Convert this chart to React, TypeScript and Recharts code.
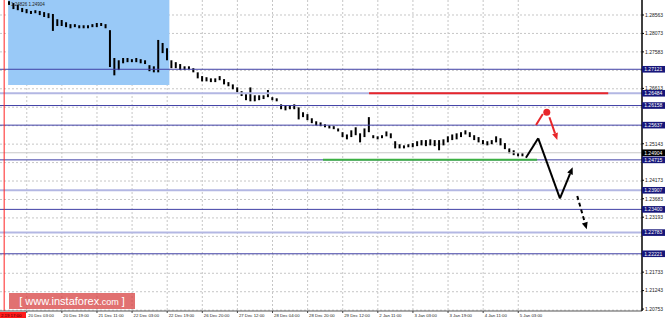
import React from 'react';
import {
  ComposedChart,
  Bar,
  XAxis,
  YAxis,
  CartesianGrid,
  ReferenceLine,
  ReferenceArea,
  ReferenceDot,
} from 'recharts';

// ---- price bars (2-hour steps, high / low) ----
const highs = [
  1.2893, 1.2888, 1.2883, 1.2875, 1.2872, 1.2867, 1.2869, 1.2867, 1.2864, 1.2861,
  1.2859, 1.2845, 1.2843, 1.2837, 1.2832, 1.2832, 1.2829, 1.2829, 1.2829, 1.2832,
  1.2835, 1.2835, 1.2832, 1.2816, 1.2742, 1.2736, 1.2742, 1.2742, 1.2739, 1.2742,
  1.2739, 1.2736, 1.2723, 1.272, 1.279, 1.2782, 1.2768, 1.2736, 1.2731, 1.2726,
  1.272, 1.272, 1.2715, 1.2704, 1.2694, 1.2691, 1.2688, 1.2688, 1.2694, 1.2686,
  1.2678, 1.2672, 1.2664, 1.2654, 1.2646, 1.2664, 1.2643, 1.2643, 1.2643, 1.2657,
  1.2638, 1.2635, 1.2619, 1.2617, 1.2617, 1.2619, 1.2611, 1.2598, 1.2593, 1.2582,
  1.2574, 1.2571, 1.2566, 1.2563, 1.2561, 1.2555, 1.2545, 1.2539, 1.255, 1.2558,
  1.2542, 1.2555, 1.2585, 1.2537, 1.2534, 1.2537, 1.2547, 1.2542, 1.2521, 1.2513,
  1.251, 1.2513, 1.2516, 1.2521, 1.2524, 1.2524, 1.2526, 1.2524, 1.2524, 1.2526,
  1.2534, 1.2539, 1.2542, 1.2545, 1.255, 1.2545, 1.2537, 1.2532, 1.2524, 1.2521,
  1.2524, 1.2534, 1.2529, 1.2516, 1.2502, 1.2497, 1.2489, 1.2489,
];
const lows = [
  1.2883, 1.2872, 1.2869, 1.2864, 1.2861, 1.2859, 1.2861, 1.2856, 1.2851, 1.2848,
  1.2814, 1.2827, 1.2827, 1.2824, 1.2821, 1.2824, 1.2821, 1.2821, 1.2821, 1.2824,
  1.2824, 1.2827, 1.2821, 1.2718, 1.2696, 1.271, 1.2728, 1.2731, 1.2731, 1.2731,
  1.2728, 1.2726, 1.2707, 1.2704, 1.2704, 1.2755, 1.2736, 1.2715, 1.2715, 1.271,
  1.271, 1.2712, 1.2704, 1.2688, 1.268, 1.268, 1.2678, 1.2678, 1.2683, 1.2672,
  1.2667, 1.2659, 1.2651, 1.2641, 1.263, 1.2627, 1.2627, 1.263, 1.2633, 1.2638,
  1.263, 1.2627, 1.2606, 1.2603, 1.2606, 1.2606, 1.2579, 1.2585, 1.2577, 1.2569,
  1.2563, 1.2561, 1.2558, 1.2555, 1.2553, 1.2547, 1.2532, 1.2526, 1.2532, 1.2537,
  1.2518, 1.2532, 1.2545, 1.2529, 1.2526, 1.2529, 1.2534, 1.2529, 1.2502, 1.2502,
  1.2502, 1.2505, 1.2505, 1.2508, 1.251, 1.2508, 1.251, 1.2508, 1.2497, 1.251,
  1.2518, 1.2524, 1.2526, 1.2532, 1.2539, 1.2532, 1.2524, 1.2518, 1.2513, 1.251,
  1.2513, 1.2518, 1.251, 1.25, 1.2489, 1.2484, 1.2481, 1.2481,
];
const firstBarIndex = 4;
const barStep = 2;

// ---- axes ----
const xTickIdx = [12, 28, 44, 60, 76, 92, 108, 124, 140, 156, 172, 188, 204, 220, 236];
const xTickLabels = [
  '20 Dec 03:00', '20 Dec 19:00', '21 Dec 11:00', '22 Dec 03:00', '22 Dec 19:00',
  '26 Dec 20:00', '27 Dec 12:00', '28 Dec 04:00', '28 Dec 20:00', '29 Dec 12:00',
  '2 Jan 11:00', '3 Jan 03:00', '3 Jan 19:00', '4 Jan 11:00', '5 Jan 03:00',
];
const xDomain = [-0.2, 292.4];
const yDomain = [1.20701, 1.28961];
const yPlainTicks = [1.28563, 1.28073, 1.27583, 1.26613, 1.25143, 1.24173, 1.23683, 1.23193, 1.21733, 1.21243, 1.20753];
const yLevelTicks = [1.27121, 1.26484, 1.26158, 1.25637, 1.24715, 1.23907, 1.234, 1.22783, 1.22221];
const currentPrice = 1.24904;
const gridPrices = [
  1.28563, 1.28073, 1.27583, 1.27093, 1.26603, 1.26113, 1.25623, 1.25133, 1.24643,
  1.24153, 1.23663, 1.23173, 1.22683, 1.22193, 1.21703, 1.21213, 1.20723,
];

// ---- levels & annotations ----
const blueLevels = [1.27121, 1.26158, 1.25637, 1.24715, 1.234, 1.22221];
const lavenderLevels = [1.26484, 1.23907, 1.22783];
const resistIdx = [168, 277];
const resistPrice = 1.26484;
const supportIdx = [147, 244.6];
const supportPrice = 1.24715;
const zoneIdx = [3.5, 77];
const zonePrice = [1.26703, 1.28961];
const separatorIdx = 1.7;
const mainPathIdx = [239.5, 245.1, 255.0, 260.8];
const mainPathPrice = [1.24773, 1.25288, 1.23694, 1.24518];
const altPathIdx = [262.9, 267.2];
const altPathPrice = [1.23755, 1.22871];
const redLegIdx = [244.1, 247.2];
const redLegPrice = [1.25641, 1.25933];
const redDotIdx = 249.0;
const redDotPrice = 1.25978;
const redArrowIdx = [250.2, 253.8];
const redArrowPrice = [1.25846, 1.25243];

const data = highs.map((h, k) => ({ t: firstBarIndex + barStep * k, range: [lows[k], h] }));

const FONT = '"Liberation Sans", Arial, sans-serif';
const RED = '#e8262a';

const arrowShape = (color: string, dash?: string) => (p: any) => {
  const x1 = Number(p.x1), y1 = Number(p.y1), x2 = Number(p.x2), y2 = Number(p.y2);
  const ang = Math.atan2(y2 - y1, x2 - x1);
  const L = 7, W = 3;
  const bx = x2 - L * Math.cos(ang);
  const by = y2 - L * Math.sin(ang);
  const px = -Math.sin(ang) * W;
  const py = Math.cos(ang) * W;
  return (
    <g>
      <line x1={x1} y1={y1} x2={bx} y2={by} stroke={color} strokeWidth={2} strokeDasharray={dash} />
      <polygon points={`${x2},${y2} ${bx + px},${by + py} ${bx - px},${by - py}`} fill={color} />
    </g>
  );
};

const XTick = (props: any) => {
  const { x, y, payload } = props;
  const i = xTickIdx.indexOf(payload.value);
  return (
    <g>
      <line x1={x} x2={x} y1={y} y2={y + 2} stroke="#444" strokeWidth={1} />
      <text x={x + 1.5} y={y + 6} fontSize={4.3} fill="#222" fontFamily={FONT} textAnchor="start">
        {i >= 0 ? xTickLabels[i] : ''}
      </text>
    </g>
  );
};

const YTick = (props: any) => {
  const { x, y, payload } = props;
  const v = payload.value as number;
  const isCur = v === currentPrice;
  const isLevel = yLevelTicks.includes(v);
  const label = v.toFixed(5);
  if (isCur || isLevel) {
    return (
      <g>
        <rect x={x} y={y - 3.3} width={23} height={6.6} fill={isCur ? '#000' : '#16167a'} />
        <text x={x + 2.2} y={y + 1.8} fontSize={5} fill="#fff" fontFamily={FONT}>{label}</text>
      </g>
    );
  }
  return (
    <g>
      <line x1={x} x2={x + 2} y1={y} y2={y} stroke="#000" strokeWidth={1} />
      <text x={x + 3} y={y + 1.8} fontSize={5} fill="#222" fontFamily={FONT}>{label}</text>
    </g>
  );
};

export default function App() {
  return (
    <div style={{ position: 'relative', width: 665, height: 322, background: '#fff', overflow: 'hidden' }}>
      <style>{'body{margin:0;}'}</style>
      <ComposedChart width={665} height={322} data={data} margin={{ top: 0, right: 0, bottom: 0, left: 0 }}>
        <CartesianGrid
          horizontalValues={gridPrices}
          verticalValues={xTickIdx}
          stroke="#c6c6c6"
          strokeDasharray="2 2"
        />
        <ReferenceArea
          x1={zoneIdx[0]}
          x2={zoneIdx[1]}
          y1={zonePrice[0]}
          y2={zonePrice[1]}
          fill="#99c9f7"
          fillOpacity={1}
          stroke="none"
          ifOverflow="extendDomain"
        />
        <XAxis
          type="number"
          dataKey="t"
          domain={xDomain}
          ticks={xTickIdx}
          interval={0}
          allowDataOverflow
          height={11}
          tickSize={0}
          tickMargin={0}
          tickLine={false}
          tick={<XTick />}
          axisLine={{ stroke: '#555' }}
        />
        <YAxis
          orientation="right"
          type="number"
          domain={yDomain}
          allowDataOverflow
          ticks={[...yPlainTicks, ...yLevelTicks, currentPrice]}
          interval={0}
          width={23}
          tickSize={0}
          tickMargin={0}
          tickLine={false}
          tick={<YTick />}
          axisLine={{ stroke: '#000', strokeWidth: 1.5 }}
        />
        {lavenderLevels.map((v) => (
          <ReferenceLine key={'lv' + v} y={v} stroke="#b3b7e3" strokeWidth={2} />
        ))}
        {blueLevels.map((v) => (
          <ReferenceLine key={'bl' + v} y={v} stroke="#4040a6" strokeWidth={1} />
        ))}
        <ReferenceLine y={currentPrice} stroke="#c8c8c8" strokeWidth={1} />
        <ReferenceLine x={separatorIdx} stroke="#ff2020" strokeWidth={1} />
        <ReferenceLine
          segment={[{ x: resistIdx[0], y: resistPrice }, { x: resistIdx[1], y: resistPrice }]}
          stroke={RED}
          strokeWidth={2}
        />
        <ReferenceLine
          segment={[{ x: supportIdx[0], y: supportPrice }, { x: supportIdx[1], y: supportPrice }]}
          stroke="#3cb043"
          strokeWidth={2}
        />
        <Bar dataKey="range" fill="#000" barSize={2} isAnimationActive={false} />
        <ReferenceLine
          segment={[{ x: mainPathIdx[0], y: mainPathPrice[0] }, { x: mainPathIdx[1], y: mainPathPrice[1] }]}
          stroke="#000"
          strokeWidth={2}
        />
        <ReferenceLine
          segment={[{ x: mainPathIdx[1], y: mainPathPrice[1] }, { x: mainPathIdx[2], y: mainPathPrice[2] }]}
          stroke="#000"
          strokeWidth={2}
        />
        <ReferenceLine
          segment={[{ x: mainPathIdx[2], y: mainPathPrice[2] }, { x: mainPathIdx[3], y: mainPathPrice[3] }]}
          shape={arrowShape('#000')}
        />
        <ReferenceLine
          segment={[{ x: altPathIdx[0], y: altPathPrice[0] }, { x: altPathIdx[1], y: altPathPrice[1] }]}
          shape={arrowShape('#000', '4 3')}
        />
        <ReferenceLine
          segment={[{ x: redLegIdx[0], y: redLegPrice[0] }, { x: redLegIdx[1], y: redLegPrice[1] }]}
          stroke={RED}
          strokeWidth={2}
        />
        <ReferenceLine
          segment={[{ x: redArrowIdx[0], y: redArrowPrice[0] }, { x: redArrowIdx[1], y: redArrowPrice[1] }]}
          shape={arrowShape(RED)}
        />
        <ReferenceDot x={redDotIdx} y={redDotPrice} r={3.5} fill={RED} stroke="none" />
      </ComposedChart>
      <svg width={665} height={322} style={{ position: 'absolute', left: 0, top: 0, pointerEvents: 'none' }}>
        <text x={11} y={6} fontSize={4.5} fill="#222" fontFamily={FONT}>1.24826 1.24904</text>
        <rect x={0} y={312} width={26} height={6} fill="#ff1a1a" />
        <text x={1} y={316.8} fontSize={4.3} fill="#300" fontFamily={FONT}>2.19 17:00</text>
      </svg>
      <div
        style={{
          position: 'absolute',
          left: 9,
          top: 293,
          width: 126,
          height: 16,
          background: 'rgba(214,58,58,0.72)',
          color: '#fff',
          fontFamily: FONT,
          fontSize: 11,
          lineHeight: '16px',
          textAlign: 'center',
          whiteSpace: 'nowrap',
        }}
      >
        [ www.instaforex<span style={{ fontSize: 9 }}>.com</span> ]
      </div>
    </div>
  );
}
